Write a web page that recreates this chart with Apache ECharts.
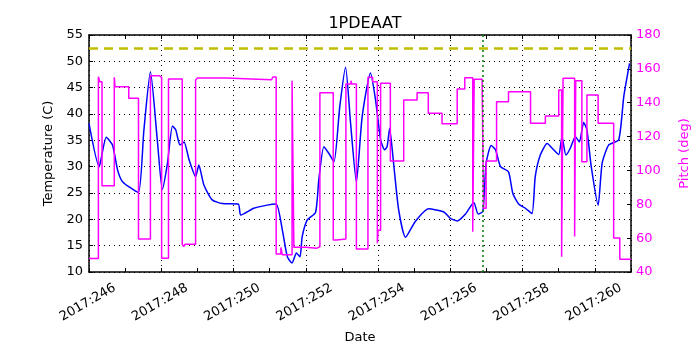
<!DOCTYPE html>
<html>
	<head>
		<meta charset="utf-8">
		<title>1PDEAAT</title>
		<script src="https://cdn.jsdelivr.net/npm/echarts@6/dist/echarts.min.js"></script>
		<style>
			* {
				margin: 0;
				padding: 0;
			}
			#main {
				width: 700px;
				height: 350px;
				background: #fff;
			}
		</style>
	</head>
	<body>
		<div id="main"></div>
		<script>
			// day of year 2017 -> temperature (C)
			let tempDays = [245.0, 245.28, 245.32, 245.48, 245.65, 245.79, 245.92, 246.1, 246.37, 246.52, 246.7, 246.89,
				247.03, 247.17, 247.31, 247.4, 247.52, 247.63, 247.77, 247.95, 248.04, 248.18, 248.41, 248.69, 249.13, 249.2,
				249.56, 249.93, 250.18, 250.35, 250.49, 250.62, 250.74, 250.84, 250.9, 251.04, 251.27, 251.36, 251.5, 251.64,
				251.78, 251.94, 252.1, 252.24, 252.4, 252.56, 252.79, 252.93, 253.07, 253.18, 253.25, 253.32, 253.43, 253.57,
				253.76, 254.03, 254.4, 254.82, 255.0, 255.19, 255.42, 255.65, 255.77, 255.9, 255.99, 256.13, 256.25, 256.39,
				256.61, 256.73, 256.89, 257.08, 257.26, 257.35, 257.49, 257.68, 257.86, 258.0, 258.09, 258.2, 258.32, 258.46,
				258.57, 258.69, 258.78, 258.9, 259.09, 259.2, 259.38, 259.66, 259.8, 259.96];
			let tempValues = [38.2, 30.0, 31.0, 35.6, 34.1, 29.4, 27.2, 26.2, 25.1, 37.0, 48.0, 35.1,
				25.7, 30.6, 37.7, 37.0, 34.1, 34.7, 31.3, 28.1, 30.3, 26.5, 23.7, 23.0, 22.9, 20.8,
				22.1, 22.7, 22.9, 18.0, 12.9, 11.7, 13.6, 12.9, 16.7, 19.9, 21.3, 27.5, 33.8, 32.5,
				30.9, 41.4, 48.9, 38.2, 27.1, 39.5, 47.8, 42.7, 35.1, 33.2, 33.8, 37.3, 30.6, 21.8,
				16.6, 19.6, 22.0, 21.4, 20.2, 19.7, 21.0, 23.2, 21.0, 21.5, 30.6, 34.0, 33.2, 30.0,
				29.0, 24.9, 22.9, 22.1, 21.1, 28.1, 32.2, 34.4, 33.2, 32.3, 35.7, 32.2, 33.5, 35.7,
				34.7, 38.4, 37.0, 30.0, 22.7, 30.6, 34.1, 35.1, 43.3, 49.6];

			// pitch changes: day at which pitch becomes the value
			let pitchDays = [245.0, 245.26, 245.3, 245.36, 245.7, 245.72, 246.1, 246.37, 246.7, 246.94, 247.01, 247.2,
				247.58, 247.62, 247.66, 247.95, 248.0, 248.8, 249.5, 250.05, 250.09, 250.18, 250.31, 250.35, 250.62,
				250.67, 251.0, 251.3, 251.39, 251.76, 251.85, 252.11, 252.25, 252.27, 252.4, 252.72, 252.85, 252.98,
				253.0, 253.07, 253.34, 253.71, 254.08, 254.39, 254.77, 255.19, 255.4, 255.62, 255.66, 255.88, 255.92,
				255.99, 256.28, 256.61, 257.22, 257.63, 258.0, 258.08, 258.12, 258.44, 258.47, 258.64, 258.78, 259.09,
				259.52, 259.69, 260.0];
			let pitchValues = [48.0, 155.4, 152.4, 91.0, 155.0, 149.5, 142.6, 59.5, 156.0, 155.0, 48.1, 154.0,
				56.4, 55.0, 56.4, 153.4, 154.6, 154.0, 153.5, 153.0, 155.2, 50.6, 54.5, 50.2, 153.0,
				54.6, 54.0, 55.0, 145.9, 58.9, 59.5, 151.1, 153.0, 151.0, 53.6, 155.0, 152.4, 57.0,
				64.6, 151.5, 105.6, 141.6, 145.9, 133.8, 127.6, 148.1, 154.8, 63.8, 153.8, 151.5, 77.6,
				105.6, 140.6, 146.5, 127.9, 132.2, 147.5, 49.0, 154.4, 60.9, 153.0, 105.2, 144.6, 127.9,
				60.1, 47.5, 47.5];

			let planningLimit = 52.5;
			let markerDay = 255.9;
			let dayRange = [245, 260];
			let tempRange = [10, 55];
			let pitchRange = [40, 180];

			let myChart = null;
			let fontName = 'DejaVu Sans';

			function fresh() {
				if (myChart == null) {
					myChart = echarts.init(document.getElementById('main'));
				}
				let tempData = [];
				tempDays.forEach((d, i) => {
					tempData.push([d, tempValues[i]]);
				});
				let pitchData = [];
				pitchDays.forEach((d, i) => {
					pitchData.push([d, pitchValues[i]]);
				});

				let option = {
					animation: false,
					backgroundColor: '#fff',
					title: {
						text: '1PDEAAT',
						left: 360,
						top: 11,
						textAlign: 'center',
						textStyle: {
							fontFamily: fontName,
							fontSize: 16,
							fontWeight: 'normal',
							color: '#000'
						}
					},
					grid: {
						left: 89,
						right: 69,
						top: 35,
						bottom: 78
					},
					xAxis: [{
						// bottom axis with labels
						type: 'value',
						min: dayRange[0],
						max: dayRange[1],
						interval: 1,
						position: 'bottom',
						name: 'Date',
						nameLocation: 'middle',
						nameGap: 59,
						nameTextStyle: {
							fontFamily: fontName,
							fontSize: 13,
							color: '#000'
						},
						axisLine: {
							show: true,
							lineStyle: { color: '#000', width: 1.5 }
						},
						axisTick: {
							inside: true,
							length: 4,
							lineStyle: { color: '#000' }
						},
						axisLabel: {
							rotate: 30,
							margin: 9,
							padding: [0, 12, 0, 0],
							fontFamily: fontName,
							fontSize: 13,
							color: '#000',
							formatter: function(v) {
								if (v % 2 === 0) {
									return '2017:' + v;
								}
								return '';
							}
						},
						splitLine: { show: false }
					}, {
						// top spine
						type: 'value',
						min: dayRange[0],
						max: dayRange[1],
						interval: 1,
						position: 'top',
						axisLine: {
							show: true,
							lineStyle: { color: '#000', width: 1.5 }
						},
						axisTick: {
							inside: true,
							length: 4,
							lineStyle: { color: '#000' }
						},
						axisLabel: { show: false },
						splitLine: { show: false }
					}, {
						// grid lines on odd days
						type: 'value',
						min: dayRange[0],
						max: dayRange[1],
						interval: 2,
						position: 'top',
						axisLine: { show: false },
						axisTick: { show: false },
						axisLabel: { show: false },
						splitLine: {
							show: true,
							lineStyle: {
								color: '#000',
								type: [1, 4],
								width: 1
							}
						}
					}],
					yAxis: [{
						type: 'value',
						min: tempRange[0],
						max: tempRange[1],
						interval: 5,
						position: 'left',
						name: 'Temperature (C)',
						nameLocation: 'middle',
						nameGap: 33,
						nameTextStyle: {
							fontFamily: fontName,
							fontSize: 13,
							color: '#000'
						},
						axisLine: {
							show: true,
							lineStyle: { color: '#000', width: 1.5 }
						},
						axisTick: {
							inside: true,
							length: 4,
							lineStyle: { color: '#000' }
						},
						axisLabel: {
							fontFamily: fontName,
							fontSize: 13,
							color: '#000',
							margin: 6
						},
						splitLine: {
							show: true,
							lineStyle: {
								color: '#000',
								type: [1, 4],
								width: 1
							}
						}
					}, {
						type: 'value',
						min: pitchRange[0],
						max: pitchRange[1],
						interval: 20,
						position: 'right',
						name: 'Pitch (deg)',
						nameLocation: 'middle',
						nameGap: 47,
						nameRotate: 90,
						nameTextStyle: {
							fontFamily: fontName,
							fontSize: 13,
							color: '#ff00ff'
						},
						axisLine: {
							show: true,
							lineStyle: { color: '#000', width: 1.5 }
						},
						axisTick: {
							inside: true,
							length: 4,
							lineStyle: { color: '#000' }
						},
						axisLabel: {
							fontFamily: fontName,
							fontSize: 13,
							color: '#ff00ff',
							margin: 5
						},
						splitLine: { show: false }
					}],
					series: [{
						name: 'Temperature',
						type: 'line',
						xAxisIndex: 0,
						yAxisIndex: 0,
						data: tempData,
						symbol: 'none',
						smooth: 0.2,
						z: 3,
						lineStyle: { color: '#0000ff', width: 1.5 },
						markLine: {
							silent: true,
							symbol: 'none',
							label: { show: false },
							data: [{
								yAxis: planningLimit,
								lineStyle: { color: '#bfbf00', width: 2.5, type: [9, 6] }
							}, {
								xAxis: markerDay,
								lineStyle: { color: '#008000', width: 1.5, type: [2, 3] }
							}]
						}
					}, {
						name: 'Pitch',
						type: 'line',
						xAxisIndex: 0,
						yAxisIndex: 1,
						data: pitchData,
						symbol: 'none',
						step: 'end',
						z: 4,
						lineStyle: { color: '#ff00ff', width: 1.5 }
					}]
				};
				myChart.setOption(option);
			}
			fresh();
		</script>
	</body>
</html>
